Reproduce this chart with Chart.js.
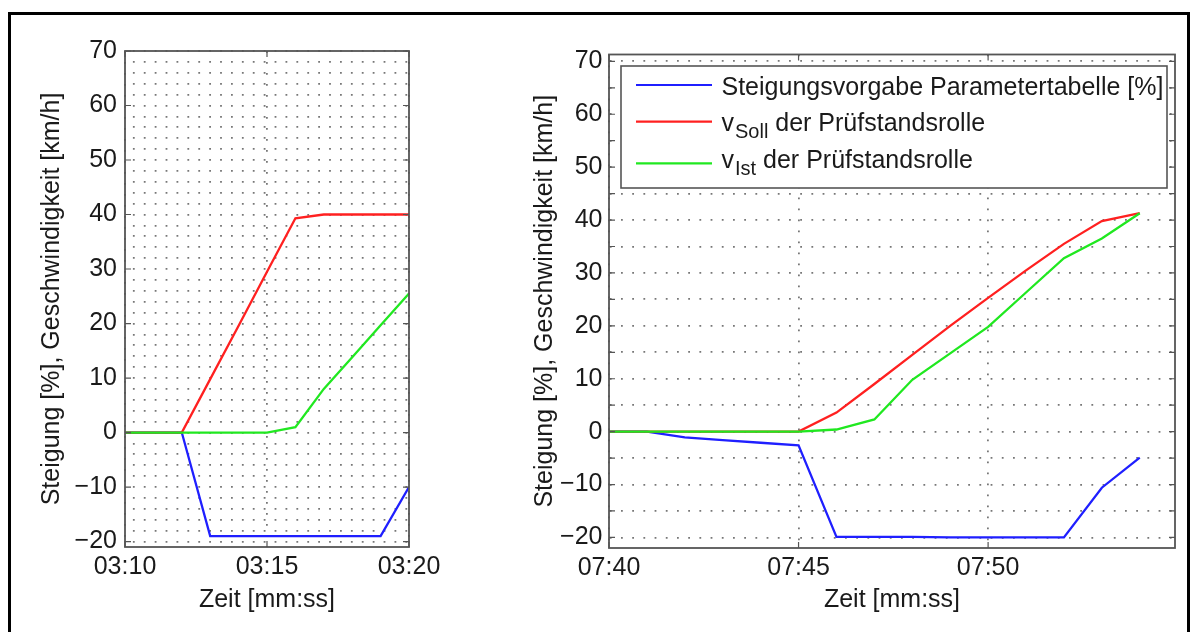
<!DOCTYPE html>
<html>
<head>
<meta charset="utf-8">
<script src="https://cdn.jsdelivr.net/npm/chart.js@4.4.1/dist/chart.umd.min.js"></script>
<style>
  html, body { margin: 0; padding: 0; background: #fff; overflow: hidden; }
  body { width: 1194px; height: 632px; position: relative; }
  #rahmen { position: absolute; left: 8px; top: 12px; width: 1182px; height: 700px;
            border: 3px solid #000; border-bottom: none; box-sizing: border-box; }
  .box { position: absolute; top: 0; height: 632px; }
  #links { left: 0; width: 470px; }
  #rechts { left: 490px; width: 704px; }
</style>
</head>
<body>
<div id="rahmen"></div>
<div class="box" id="links"><canvas id="chartLinks"></canvas></div>
<div class="box" id="rechts"><canvas id="chartRechts"></canvas></div>

<script>
// ===============================
// DATEN
// ===============================
const reihenNamen = [
  "Steigungsvorgabe Parametertabelle [%]",
  "v_{Soll} der Prüfstandsrolle",
  "v_{Ist} der Prüfstandsrolle"
];
const reihenFarben = ["#1f1fff", "#ff2020", "#20e820"];

// linkes Diagramm, Sekunden ab 03:10
const zeitLinks = [0, 1, 2, 3, 4, 5, 6, 7, 8, 9, 10];
const steigungLinks = [0, 0, 0, -19, -19, -19, -19, -19, -19, -19, -10];
const vSollLinks = [0, 0, 0, 9.8, 19.6, 29.5, 39.3, 40, 40, 40, 40];
const vIstLinks = [0, 0, 0, 0, 0, 0, 1, 8, 13.8, 19.7, 25.5];
const xTicksLinks = [0, 5, 10];
const xLabelsLinks = ["03:10", "03:15", "03:20"];

// rechtes Diagramm, Sekunden ab 07:40
const zeitRechts = [0, 1, 2, 3, 4, 5, 6, 7, 8, 9, 10, 11, 12, 13, 14];
const steigungRechts = [0, 0, -1.1, -1.6, -2.1, -2.6, -19.9, -19.9, -19.9, -20, -20, -20, -20, -10.6, -4.9];
const vSollRechts = [0, 0, 0, 0, 0, 0, 3.6, 9.0, 14.5, 20.0, 25.3, 30.5, 35.5, 39.8, 41.3];
const vIstRechts = [0, 0, 0, 0, 0, 0, 0.4, 2.3, 9.8, 14.8, 19.8, 26.3, 32.8, 36.5, 41.3];
const xTicksRechts = [0, 5, 10];
const xLabelsRechts = ["07:40", "07:45", "07:50"];

const yLabelTicks = [-20, -10, 0, 10, 20, 30, 40, 50, 60, 70];

const schrift = "'Liberation Sans', Arial, sans-serif";
Chart.defaults.font.family = schrift;
Chart.defaults.font.size = 25;
Chart.defaults.color = "#1a1a1a";

// ===============================
// PLUGINS: Rahmen + Legende
// ===============================
const rahmenPlugin = {
  id: "rahmen",
  afterDatasetsDraw(chart, args, opts) {
    const { ctx, chartArea: a, scales: { x, y } } = chart;
    ctx.save();
    ctx.strokeStyle = "#555";
    ctx.lineWidth = 1.2;
    ctx.beginPath();
    y.ticks.forEach(t => {
      if (t.value % opts.yMarke !== 0) return;
      const p = y.getPixelForValue(t.value);
      ctx.moveTo(a.left, p); ctx.lineTo(a.left + 6, p);
      ctx.moveTo(a.right, p); ctx.lineTo(a.right - 6, p);
    });
    x.ticks.forEach(t => {
      const p = x.getPixelForValue(t.value);
      ctx.moveTo(p, a.top); ctx.lineTo(p, a.top + 6);
      ctx.moveTo(p, a.bottom); ctx.lineTo(p, a.bottom - 6);
    });
    ctx.stroke();
    ctx.lineWidth = 1.8;
    ctx.strokeRect(a.left, a.top, a.right - a.left, a.bottom - a.top);
    ctx.restore();
  }
};

const legendePlugin = {
  id: "legende",
  afterDraw(chart, args, opts) {
    if (!opts.zeigen) return;
    const { ctx, chartArea: a } = chart;
    const x0 = a.left + 12, y0 = a.top + 11.5;
    const x1 = a.right - 8, y1 = y0 + 122;
    const zeilen = [{ linie: 19, basis: 29 }, { linie: 55.7, basis: 64.7 }, { linie: 97.3, basis: 102 }];
    ctx.save();
    ctx.fillStyle = "#fff";
    ctx.fillRect(x0, y0, x1 - x0, y1 - y0);
    ctx.strokeStyle = "#555";
    ctx.lineWidth = 1.6;
    ctx.strokeRect(x0, y0, x1 - x0, y1 - y0);

    chart.data.datasets.forEach((ds, i) => {
      const z = zeilen[i];
      ctx.strokeStyle = ds.borderColor;
      ctx.lineWidth = 2.2;
      ctx.beginPath();
      ctx.moveTo(x0 + 15, y0 + z.linie);
      ctx.lineTo(x0 + 91, y0 + z.linie);
      ctx.stroke();

      // v_{Soll} -> v + Index
      const m = ds.label.match(/^(.*?)_\{(.*?)\}(.*)$/);
      let tx = x0 + 100.5;
      const by = y0 + z.basis;
      ctx.fillStyle = "#1a1a1a";
      ctx.textBaseline = "alphabetic";
      ctx.textAlign = "left";
      ctx.font = "25px " + schrift;
      if (!m) {
        ctx.fillText(ds.label, tx, by);
        return;
      }
      ctx.fillText(m[1], tx, by);
      tx += ctx.measureText(m[1]).width + 1;
      ctx.font = "20px " + schrift;
      ctx.fillText(m[2], tx, by + 7);
      tx += ctx.measureText(m[2]).width;
      ctx.font = "25px " + schrift;
      ctx.fillText(m[3], tx, by);
    });
    ctx.restore();
  }
};

function minus(v) {
  return v < 0 ? "\u2212" + Math.abs(v) : String(v);
}

function macheDiagramm(id, zeit, werte, p) {
  const ctx = document.getElementById(id).getContext("2d");
  return new Chart(ctx, {
    type: "line",
    data: {
      labels: zeit,
      datasets: werte.map((w, i) => ({
        label: reihenNamen[i],
        data: zeit.map((t, k) => ({ x: t, y: w[k] })),
        borderColor: reihenFarben[i],
        borderWidth: 2.3,
        pointRadius: 0,
        tension: 0,
        fill: false,
        order: 2 - i
      }))
    },
    options: {
      responsive: true,
      maintainAspectRatio: false,
      animation: false,
      layout: { padding: { top: p.oben, right: p.rechts, left: 0, bottom: 0 } },
      plugins: {
        legend: { display: false },
        tooltip: { enabled: false },
        rahmen: { yMarke: p.yMarke },
        legende: { zeigen: p.legende }
      },
      scales: {
        x: {
          type: "linear",
          min: 0,
          max: p.xMax,
          afterBuildTicks: s => { s.ticks = p.xTicks.map(v => ({ value: v })); },
          afterFit: s => { s.height = p.xHoehe; },
          ticks: {
            autoSkip: false,
            maxRotation: 0,
            padding: 5,
            callback: v => p.xLabels[p.xTicks.indexOf(v)] ?? ""
          },
          grid: { color: "#777", lineWidth: 1.8, drawTicks: false },
          border: { display: false, dash: [1.8, 9.2] },
          title: { display: true, text: "Zeit [mm:ss]", padding: { top: 0, bottom: 16.6 } }
        },
        y: {
          min: p.yMin,
          max: p.yMax,
          afterBuildTicks: s => {
            const t = [];
            for (let v = -20; v <= 70; v += p.yGitter) t.push({ value: v });
            s.ticks = t;
          },
          afterFit: s => { s.width = p.yBreite; },
          ticks: {
            autoSkip: false,
            padding: p.yPadding,
            callback: v => yLabelTicks.includes(v) ? minus(v) : ""
          },
          grid: { color: "#777", lineWidth: 1.8, drawTicks: false },
          border: { display: false, dash: [1.8, p.punktAbstand - 1.8], dashOffset: p.dashOffset },
          title: { display: true, text: "Steigung [%], Geschwindigkeit [km/h]", padding: { top: p.titelAbstand, bottom: 0 } }
        }
      }
    },
    plugins: [rahmenPlugin, legendePlugin]
  });
}

macheDiagramm("chartLinks", zeitLinks, [steigungLinks, vSollLinks, vIstLinks], {
  oben: 51, rechts: 61, xMax: 10, xTicks: xTicksLinks, xLabels: xLabelsLinks, xHoehe: 85,
  yMin: -21.0, yMax: 70, yGitter: 2, yMarke: 10, yBreite: 125, yPadding: 8,
  punktAbstand: 10.9, dashOffset: 3.0, titelAbstand: 37, legende: false
});

macheDiagramm("chartRechts", zeitRechts, [steigungRechts, vSollRechts, vIstRechts], {
  oben: 54.5, rechts: 19, xMax: 14.93, xTicks: xTicksRechts, xLabels: xLabelsRechts, xHoehe: 84,
  yMin: -22, yMax: 71.3, yGitter: 5, yMarke: 5, yBreite: 119, yPadding: 6.5,
  punktAbstand: 11.2, dashOffset: 10.4, titelAbstand: 40, legende: true
});
</script>
</body>
</html>
